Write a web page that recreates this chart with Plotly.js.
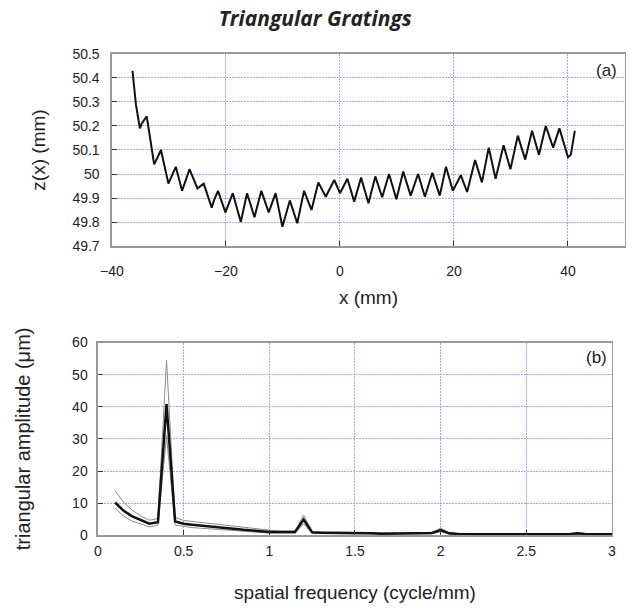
<!DOCTYPE html>
<html>
<head>
<meta charset="utf-8">
<script src="https://cdn.plot.ly/plotly-3.0.1.min.js"></script>
<style>html,body{margin:0;padding:0;background:#fff}#chart{width:638px;height:610px}</style>
</head>
<body>
<div id="chart"></div>
<script>
// (a) surface profile z(x)
const profileX = [-36.4,-35.8,-35.1,-34.8,-33.9,-32.6,-31.4,-30.1,-28.8,-27.7,-26.4,-25.6,-25.0,-23.9,-22.5,-22.1,-21.4,-20.1,-18.8,-17.4,-16.3,-15.0,-13.8,-12.5,-11.3,-10.1,-8.8,-7.5,-6.3,-5.0,-3.8,-2.5,-1.0,0.0,1.3,2.5,3.7,5.0,6.2,7.4,8.6,9.9,11.1,12.4,13.7,14.9,16.2,17.5,18.6,19.8,20.4,21.2,22.3,23.7,24.9,26.1,27.3,28.7,29.9,31.2,32.5,33.7,34.9,36.1,37.4,38.5,40.0,40.5,41.2];
const profileZ = [50.43,50.29,50.19,50.21,50.24,50.04,50.10,49.96,50.03,49.93,50.02,49.97,49.94,49.96,49.86,49.89,49.93,49.84,49.92,49.80,49.92,49.82,49.93,49.84,49.92,49.78,49.89,49.795,49.93,49.85,49.965,49.905,49.975,49.92,49.98,49.885,49.985,49.878,49.99,49.903,50.0,49.895,50.01,49.91,50.0,49.905,50.005,49.91,50.03,49.93,49.96,49.995,49.925,50.058,49.965,50.11,49.98,50.12,50.02,50.16,50.06,50.18,50.08,50.2,50.11,50.19,50.07,50.08,50.18];

// (b) triangular amplitude spectrum
const freq = [0.10,0.15,0.20,0.25,0.30,0.35,0.40,0.45,0.50,0.55,0.60,0.65,0.70,0.75,0.80,0.85,0.90,0.95,1.00,1.05,1.10,1.15,1.20,1.25,1.30,1.35,1.40,1.45,1.50,1.55,1.60,1.65,1.70,1.75,1.80,1.85,1.90,1.95,2.00,2.05,2.10,2.15,2.20,2.25,2.30,2.35,2.40,2.45,2.50,2.55,2.60,2.65,2.70,2.75,2.80,2.85,2.90,2.95,3.00];
const ampMean = [10.2,7.6,5.9,4.7,3.6,4.1,40.8,4.3,3.6,3.3,3.0,2.8,2.5,2.3,2.0,1.7,1.5,1.2,1.0,1.0,1.0,1.0,4.9,0.9,0.8,0.8,0.7,0.7,0.7,0.6,0.6,0.5,0.5,0.5,0.5,0.5,0.6,0.7,1.6,0.6,0.4,0.4,0.4,0.3,0.3,0.3,0.3,0.3,0.3,0.3,0.3,0.3,0.3,0.3,0.6,0.3,0.3,0.3,0.3];
const ampUpper = [13.9,10.2,7.8,6.0,4.7,5.2,54.5,5.6,4.6,4.3,4.0,3.7,3.4,3.1,2.8,2.4,2.1,1.7,1.4,1.3,1.3,1.3,6.3,1.2,1.1,1.0,1.0,0.9,0.9,0.8,0.8,0.7,0.7,0.7,0.7,0.7,0.8,0.9,2.2,0.8,0.6,0.5,0.5,0.5,0.5,0.5,0.5,0.5,0.5,0.5,0.5,0.5,0.5,0.5,0.8,0.5,0.5,0.5,0.5];
const ampLower = [8.4,5.9,4.4,3.5,2.6,3.1,31.0,3.2,2.7,2.4,2.2,2.0,1.8,1.6,1.4,1.2,1.0,0.8,0.7,0.7,0.7,0.7,3.6,0.6,0.6,0.5,0.5,0.5,0.5,0.4,0.4,0.4,0.4,0.4,0.4,0.4,0.4,0.5,1.1,0.4,0.2,0.2,0.2,0.2,0.2,0.2,0.2,0.2,0.2,0.2,0.2,0.2,0.2,0.2,0.4,0.2,0.2,0.2,0.2];

const tickFont = {family: 'Liberation Sans, Arial, sans-serif', size: 14, color: '#222'};
const titleFont = {family: 'Liberation Sans, Arial, sans-serif', size: 19, color: '#222'};
const gridStyle = {showgrid: true, gridcolor: '#a6a6ff', griddash: '2px,1px', gridwidth: 1,
  zeroline: false, showline: true, mirror: true, linecolor: '#999', linewidth: 1.5,
  ticks: 'inside', ticklen: 5, tickcolor: '#333', tickfont: tickFont};

const traces = [
  {x: profileX, y: profileZ, xaxis: 'x', yaxis: 'y', mode: 'lines', line: {color: '#111', width: 2}},
  {x: freq, y: ampUpper, xaxis: 'x2', yaxis: 'y2', mode: 'lines', line: {color: '#8a8a8a', width: 1}},
  {x: freq, y: ampLower, xaxis: 'x2', yaxis: 'y2', mode: 'lines', line: {color: '#8a8a8a', width: 1}},
  {x: freq, y: ampMean, xaxis: 'x2', yaxis: 'y2', mode: 'lines', line: {color: '#111', width: 2.5}}
];

const layout = {
  width: 638, height: 610,
  margin: {l: 0, r: 0, t: 0, b: 0},
  paper_bgcolor: '#fff', plot_bgcolor: '#fff',
  showlegend: false,
  title: {text: '<b><i>Triangular Gratings</i></b>', font: {family: 'Open Sans, Noto Sans, sans-serif', size: 21, color: '#222'},
          x: 0.494, xanchor: 'center', y: 0.97, yanchor: 'middle'},
  xaxis: Object.assign({}, gridStyle, {domain: [0.1755, 0.9796], anchor: 'y', range: [-40, 50], dtick: 20, tick0: 0,
    ticklabelstandoff: 12, title: {text: 'x (mm)', font: titleFont, standoff: 12}}),
  yaxis: Object.assign({}, gridStyle, {domain: [0.5967, 0.9115], anchor: 'x', range: [49.7, 50.5], dtick: 0.1, tick0: 49.7,
    ticklabelstandoff: 8, title: {text: 'z(x) (mm)', font: titleFont, standoff: 22}}),
  xaxis2: Object.assign({}, gridStyle, {domain: [0.1536, 0.9592], anchor: 'y2', range: [0, 3], dtick: 0.5, tick0: 0,
    ticklabelstandoff: 2, title: {text: 'spatial frequency (cycle/mm)', font: titleFont, standoff: 28}}),
  yaxis2: Object.assign({}, gridStyle, {domain: [0.1225, 0.4385], anchor: 'x2', range: [0, 60], dtick: 10, tick0: 0,
    ticklabelstandoff: 6, title: {text: 'triangular amplitude (\u03bcm)', font: {family: 'Liberation Sans, Arial, sans-serif', size: 20, color: '#222'}, standoff: 36}}),
  annotations: [
    {xref: 'x', yref: 'y', x: 46.8, y: 50.43, text: '(a)', showarrow: false, font: {family: 'Liberation Sans, Arial, sans-serif', size: 17, color: '#222'}},
    {xref: 'x2', yref: 'y2', x: 2.91, y: 55.2, text: '(b)', showarrow: false, font: {family: 'Liberation Sans, Arial, sans-serif', size: 17, color: '#222'}}
  ]
};

Plotly.newPlot('chart', traces, layout, {staticPlot: true, displayModeBar: false});
</script>
</body>
</html>
